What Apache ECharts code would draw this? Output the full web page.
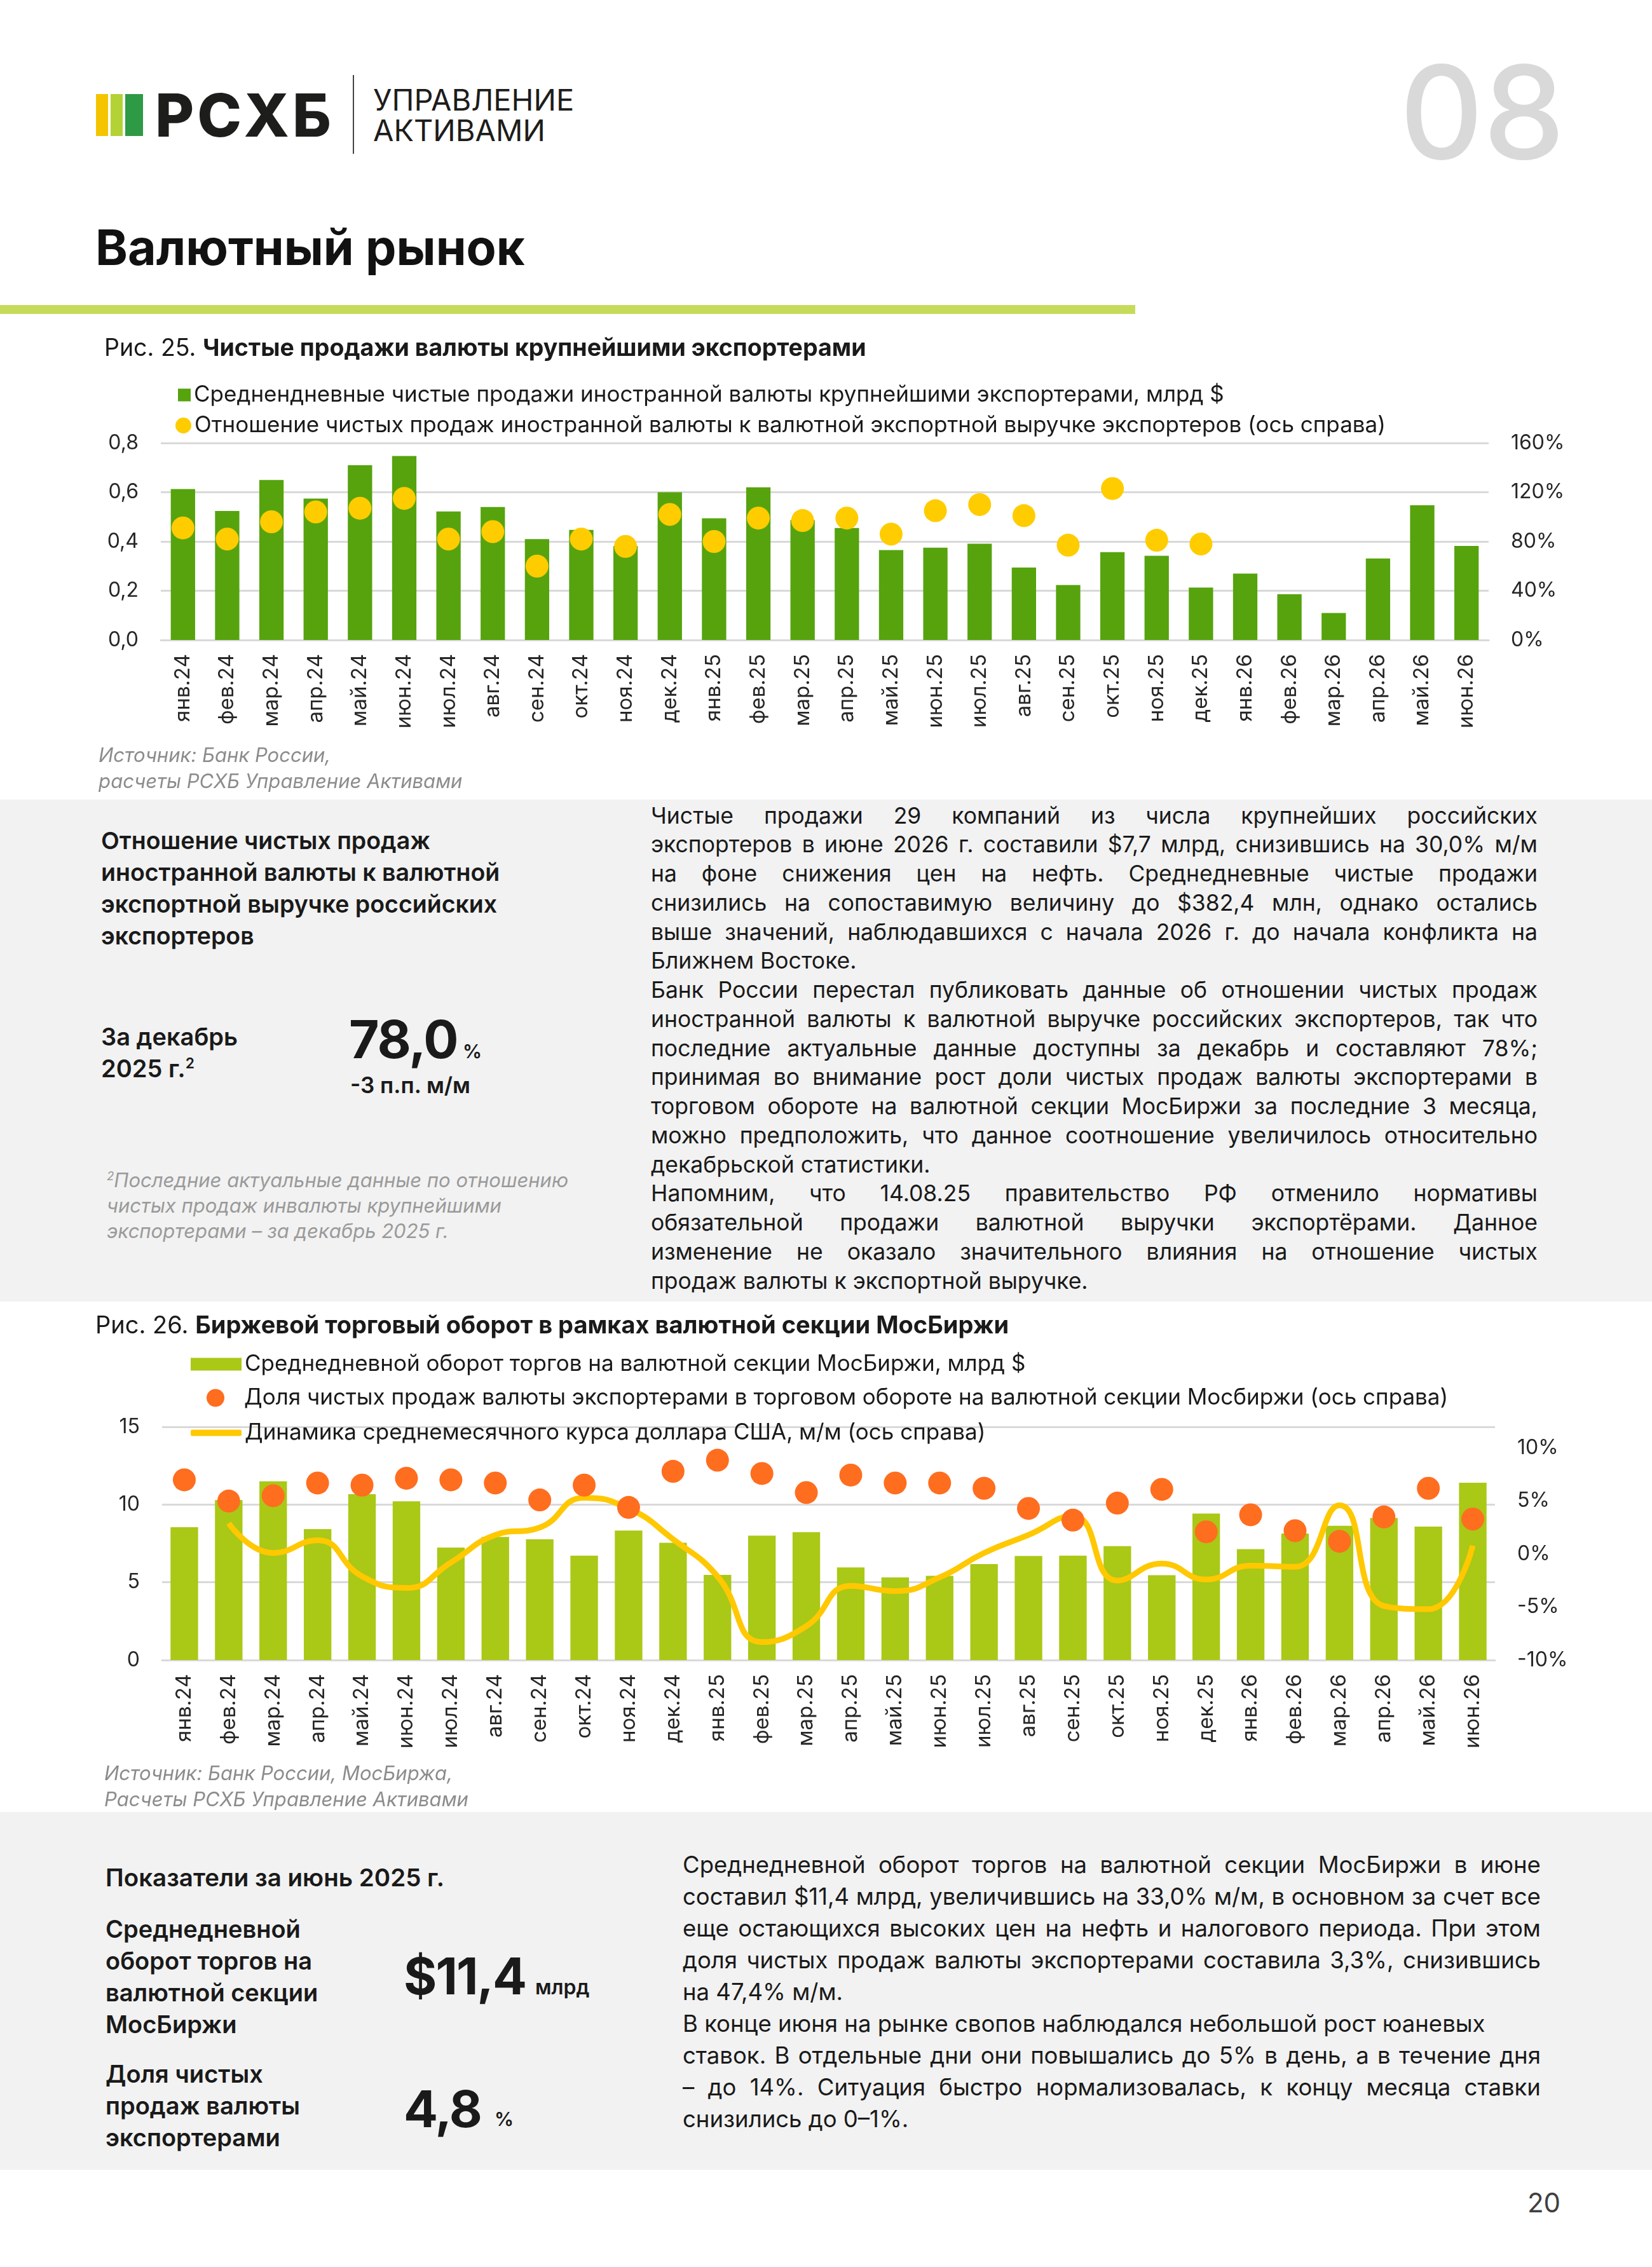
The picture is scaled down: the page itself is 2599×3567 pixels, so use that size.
<!DOCTYPE html>
<html>
<head>
<meta charset="utf-8">
<script src="https://cdn.jsdelivr.net/npm/echarts@6/dist/echarts.min.js"></script>
<style>
  html, body { margin: 0; padding: 0; background: #fff; }
  #page { position: relative; width: 2599px; height: 3567px; overflow: hidden;
          font-family: Inter, 'Noto Sans', sans-serif; color: #1a1a1a; }
  .t { position: absolute; white-space: nowrap; }
  .j { position: absolute; display: flex; justify-content: space-between; white-space: nowrap; }
  .r { position: absolute; }
  sup { font-size: 0.6em; vertical-align: 0.6em; line-height: 0; }
  #chart1 { position: absolute; left: 0; top: 520px; width: 2599px; height: 660px; }
  #chart2 { position: absolute; left: 0; top: 2100px; width: 2599px; height: 700px; }
</style>
</head>
<body>
<div id="page">
  <div id="chart1"></div>
  <div id="chart2"></div>
</div>
<script>
// ---- данные ----
const months = ['янв.24','фев.24','мар.24','апр.24','май.24','июн.24','июл.24','авг.24','сен.24','окт.24','ноя.24','дек.24',
                'янв.25','фев.25','мар.25','апр.25','май.25','июн.25','июл.25','авг.25','сен.25','окт.25','ноя.25','дек.25',
                'янв.26','фев.26','мар.26','апр.26','май.26','июн.26'];

// Рис. 25
const netSales = [0.613,0.524,0.650,0.574,0.710,0.747,0.522,0.540,0.410,0.447,0.382,0.600,
                  0.494,0.620,0.487,0.455,0.365,0.375,0.391,0.294,0.223,0.357,0.342,0.213,
                  0.270,0.186,0.110,0.331,0.547,0.382];
const salesRatio = [91,82,96,104,107,115,82,88,60,82,76,102,
                    80,99,97,99,86,105,110,101,77,123,81,78,
                    null,null,null,null,null,null];

// Рис. 26
const turnover = [8.54,10.29,11.5,8.42,10.67,10.21,7.23,7.92,7.77,6.71,8.33,7.54,
                  5.48,8.0,8.23,5.96,5.31,5.42,6.17,6.69,6.71,7.33,5.46,9.42,
                  7.13,8.13,8.63,9.13,8.58,11.4];
const exporterShare = [7.0,5.0,5.5,6.7,6.5,7.15,7.0,6.7,5.1,6.5,4.4,7.8,
                       8.85,7.6,5.8,7.45,6.7,6.7,6.2,4.3,3.2,4.8,6.1,2.1,
                       3.7,2.2,1.2,3.5,6.2,3.3];
const usdChange = [null,2.9,0.1,1.3,-2.1,-3.2,-0.8,1.8,2.5,5.3,4.3,1.4,
                   -2.1,-8.3,-6.8,-3.0,-3.5,-2.2,0.1,1.8,3.6,-2.5,-0.9,-2.4,
                   -1.1,-1.2,4.6,-4.9,-5.2,0.8];

const leftTicks1 = {min: 0, max: 0.8, step: 0.2};
const rightTicks1 = {min: 0, max: 160, step: 40};
const leftTicks2 = {min: 0, max: 15, step: 5};
const rightTicks2 = {min: -10, max: 12, step: 5};

const legend1 = ['Среднендневные чистые продажи иностранной валюты крупнейшими экспортерами, млрд $',
                 'Отношение чистых продаж иностранной валюты к валютной экспортной выручке экспортеров (ось справа)'];
const legend2 = ['Среднедневной оборот торгов на валютной секции МосБиржи, млрд $',
                 'Доля чистых продаж валюты экспортерами в торговом обороте на валютной секции Мосбиржи (ось справа)',
                 'Динамика среднемесячного курса доллара США, м/м (ось справа)'];

// текст панелей: [строка, по ширине?]
const text1 = [
  ['Чистые продажи 29 компаний из числа крупнейших российских', 1],
  ['экспортеров в июне 2026 г. составили $7,7 млрд, снизившись на 30,0% м/м', 1],
  ['на фоне снижения цен на нефть. Среднедневные чистые продажи', 1],
  ['снизились на сопоставимую величину до $382,4 млн, однако остались', 1],
  ['выше значений, наблюдавшихся с начала 2026 г. до начала конфликта на', 1],
  ['Ближнем Востоке.', 0],
  ['Банк России перестал публиковать данные об отношении чистых продаж', 1],
  ['иностранной валюты к валютной выручке российских экспортеров, так что', 1],
  ['последние актуальные данные доступны за декабрь и составляют 78%;', 1],
  ['принимая во внимание рост доли чистых продаж валюты экспортерами в', 1],
  ['торговом обороте на валютной секции МосБиржи за последние 3 месяца,', 1],
  ['можно предположить, что данное соотношение увеличилось относительно', 1],
  ['декабрьской статистики.', 0],
  ['Напомним, что 14.08.25 правительство РФ отменило нормативы', 1],
  ['обязательной продажи валютной выручки экспортёрами. Данное', 1],
  ['изменение не оказало значительного влияния на отношение чистых', 1],
  ['продаж валюты к экспортной выручке.', 0]
];
const text2 = [
  ['Среднедневной оборот торгов на валютной секции МосБиржи в июне', 1],
  ['составил $11,4 млрд, увеличившись на 33,0% м/м, в основном за счет все', 1],
  ['еще остающихся высоких цен на нефть и налогового периода. При этом', 1],
  ['доля чистых продаж валюты экспортерами составила 3,3%, снизившись', 1],
  ['на 47,4% м/м.', 0],
  ['В конце июня на рынке свопов наблюдался небольшой рост юаневых', 0],
  ['ставок. В отдельные дни они повышались до 5% в день, а в течение дня', 1],
  ['– до 14%. Ситуация быстро нормализовалась, к концу месяца ставки', 1],
  ['снизились до 0–1%.', 0]
];

// ---- страница ----
const page = document.getElementById('page');
function put(html, x, cy, size, css) {
  const d = document.createElement('div');
  d.className = 't';
  d.style.left = x + 'px';
  d.style.top = (cy - size * 0.6) + 'px';
  d.style.fontSize = size + 'px';
  d.style.lineHeight = (size * 1.2) + 'px';
  if (css) d.style.cssText += css;
  d.innerHTML = html;
  page.appendChild(d);
  return d;
}
function rect(x, y, w, h, color) {
  const d = document.createElement('div');
  d.className = 'r';
  d.style.cssText += `left:${x}px;top:${y}px;width:${w}px;height:${h}px;background:${color};`;
  page.insertBefore(d, page.firstChild);
}
function para(lines, x, w, y0, step, size) {
  lines.forEach(([s, just], i) => {
    const cy = y0 + i * step;
    if (!just) { put(s, x, cy, size); return; }
    const d = document.createElement('div');
    d.className = 'j';
    d.style.cssText += `left:${x}px;width:${w}px;top:${cy - size * 0.6}px;font-size:${size}px;line-height:${size * 1.2}px;`;
    s.split(' ').forEach(wd => { const sp = document.createElement('span'); sp.textContent = wd; d.appendChild(sp); });
    page.appendChild(d);
  });
}

// серые панели (вставляются под графики)
rect(0, 2851, 2599, 563, '#f2f2f2');
rect(0, 1258, 2599, 790, '#f2f2f2');

// шапка
rect(151, 148, 19, 66, '#f5c400');
rect(174, 148, 19, 66, '#b3d235');
rect(197, 148, 28, 66, '#2e9a45');
rect(555, 118, 2, 124, '#444');
rect(0, 480, 1786, 14, '#c7db5b');
put('РСХБ', 244, 181, 94, 'font-weight:800;letter-spacing:5px;color:#1d1d1b;');
put('УПРАВЛЕНИЕ', 587, 157, 47, 'color:#1d1d1b;');
put('АКТИВАМИ', 587, 205, 47, 'color:#1d1d1b;');
put('08', 2100, 176, 204, 'width:362px;text-align:right;font-weight:500;color:#d9d9d9;');
put('Валютный рынок', 150, 389, 77, 'font-weight:700;color:#111;');

// Рис. 25
put('Рис. 25. <b style="font-weight:700">Чистые продажи валюты крупнейшими экспортерами</b>', 164, 546, 37.5);
put('Источник: Банк России,', 155, 1188, 31, 'font-style:italic;color:#8c8c8c;');
put('расчеты РСХБ Управление Активами', 155, 1229, 31, 'font-style:italic;color:#8c8c8c;');

// панель 1
['Отношение чистых продаж', 'иностранной валюты к валютной', 'экспортной выручке российских', 'экспортеров']
  .forEach((s, i) => put(s, 159, 1322 + i * 50, 37.5, 'font-weight:600;'));
put('За декабрь', 159, 1632, 38, 'font-weight:600;');
put('2025 г.<sup>2</sup>', 159, 1682, 38, 'font-weight:600;');
put('78,0', 549, 1636, 82, 'font-weight:700;letter-spacing:-2px;');
put('%', 728, 1654, 30, 'font-weight:600;');
put('-3 п.п. м/м', 551, 1707, 35, 'font-weight:600;');
put('<sup>2</sup>Последние актуальные данные по отношению', 168, 1857, 31, 'font-style:italic;color:#9a9a9a;');
put('чистых продаж инвалюты крупнейшими', 168, 1897, 31, 'font-style:italic;color:#9a9a9a;');
put('экспортерами – за декабрь 2025 г.', 168, 1937, 31, 'font-style:italic;color:#9a9a9a;');
rect(988, 1286, 2, 721, '#a6a6a6');
para(text1, 1024, 1395, 1284, 45.75, 35.5);

// Рис. 26
put('Рис. 26. <b style="font-weight:700">Биржевой торговый оборот в рамках валютной секции МосБиржи</b>', 150, 2085, 38);
put('Источник: Банк России, МосБиржа,', 164, 2790, 31, 'font-style:italic;color:#8c8c8c;');
put('Расчеты РСХБ Управление Активами', 164, 2831, 31, 'font-style:italic;color:#8c8c8c;');

// панель 2
put('Показатели за июнь 2025 г.', 166, 2954, 38.5, 'font-weight:600;');
['Среднедневной', 'оборот торгов на', 'валютной секции', 'МосБиржи']
  .forEach((s, i) => put(s, 166, 3036 + i * 50, 38, 'font-weight:600;'));
put('$11,4', 635, 3109, 80, 'font-weight:700;letter-spacing:-2px;');
put('млрд', 842, 3127, 32, 'font-weight:600;');
['Доля чистых', 'продаж валюты', 'экспортерами']
  .forEach((s, i) => put(s, 166, 3264 + i * 50, 38, 'font-weight:600;'));
put('4,8', 635, 3318, 80, 'font-weight:700;letter-spacing:-2px;');
put('%', 778, 3334, 30, 'font-weight:600;');
rect(1017, 2879, 2, 505, '#a6a6a6');
para(text2, 1074, 1350, 2935, 50, 36.5);
put('20', 2403, 3466, 42, 'color:#404040;');

// ---- графики ----
const FONT = 'Inter';
const gridColor = '#d9d9d9';
const dash = v => (v == null ? '-' : v);
const legText = {fontSize: 35, color: '#1a1a1a', fontFamily: FONT};

function xAxisCfg() {
  return {
    type: 'category', data: months,
    axisLine: {lineStyle: {color: gridColor, width: 3}},
    axisTick: {length: 12, lineStyle: {color: gridColor, width: 2}},
    axisLabel: {rotate: 90, margin: 22, fontSize: 33, color: '#262626', fontFamily: FONT}
  };
}
function yAxisCfg(t, pos, fmt, split) {
  return {
    type: 'value', position: pos, min: t.min, max: t.max, interval: t.step,
    axisLine: {show: false}, axisTick: {show: false},
    axisLabel: {formatter: fmt, fontSize: 32, color: '#262626', margin: 35, fontFamily: FONT},
    splitLine: {show: split, lineStyle: {color: gridColor, width: 3}}
  };
}

const c1 = echarts.init(document.getElementById('chart1'));
c1.setOption({
  animation: false,
  textStyle: {fontFamily: FONT},
  legend: [
    {left: 280, top: 84, padding: 0, itemWidth: 20, itemHeight: 20, icon: 'rect', data: [legend1[0]], textStyle: legText},
    {left: 276, top: 132, padding: 0, itemWidth: 25, itemHeight: 25, icon: 'circle', data: [legend1[1]], textStyle: legText}
  ],
  grid: {left: 253, right: 257, top: 177, height: 310, outerBoundsMode: 'none'},
  xAxis: xAxisCfg(),
  yAxis: [
    yAxisCfg(leftTicks1, 'left', v => v.toFixed(1).replace('.', ','), true),
    yAxisCfg(rightTicks1, 'right', v => v + '%', false)
  ],
  series: [
    {name: legend1[0], type: 'bar', data: netSales, barWidth: '55%', itemStyle: {color: '#56a30e'}, z: 2},
    {name: legend1[1], type: 'scatter', yAxisIndex: 1, data: salesRatio.map(dash), symbolSize: 36,
     itemStyle: {color: '#ffcc00', opacity: 1}, z: 4}
  ]
});

const c2 = echarts.init(document.getElementById('chart2'));
c2.setOption({
  animation: false,
  textStyle: {fontFamily: FONT},
  legend: [
    {left: 300, top: 29, padding: 0, itemWidth: 80, itemHeight: 20, icon: 'rect', data: [legend2[0]], textStyle: legText},
    {left: 325, top: 82, padding: 0, itemWidth: 80, itemHeight: 28, icon: 'circle', data: [legend2[1]], textStyle: legText},
    {left: 300, top: 137, padding: 0, itemWidth: 80, itemHeight: 10, icon: 'roundRect', data: [legend2[2]], textStyle: legText}
  ],
  grid: {left: 255, right: 247, top: 145, height: 367, outerBoundsMode: 'none'},
  xAxis: xAxisCfg(),
  yAxis: [
    yAxisCfg(leftTicks2, 'left', v => String(v), true),
    yAxisCfg(rightTicks2, 'right', v => (v > 10 ? '' : v + '%'), false)
  ],
  series: [
    {name: legend2[0], type: 'bar', data: turnover, barWidth: '62%', itemStyle: {color: '#aac816'}, z: 2},
    {name: legend2[2], type: 'line', yAxisIndex: 1, data: usdChange.map(dash), smooth: 0.5, showSymbol: false,
     lineStyle: {color: '#ffc800', width: 9}, itemStyle: {color: '#ffc800'}, z: 3},
    {name: legend2[1], type: 'scatter', yAxisIndex: 1, data: exporterShare, symbolSize: 36,
     itemStyle: {color: '#ff6d1f', opacity: 1}, z: 4}
  ]
});
</script>
</body>
</html>
